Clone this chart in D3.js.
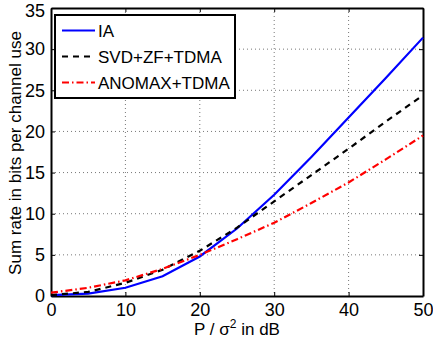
<!DOCTYPE html>
<html>
<head>
<meta charset="utf-8">
<script src="https://cdn.jsdelivr.net/npm/d3@7"></script>
<style>
  body { margin: 0; background: #fff; }
  svg text { font-family: "Liberation Sans", Arial, Helvetica, sans-serif; }
</style>
</head>
<body>
<div id="host"></div>
<script>
// P / sigma^2 in dB
const snrDb = [0, 5, 10, 15, 20, 25, 30, 35, 40, 45, 50];
const rateIA = [0.1, 0.3, 1.0, 2.4, 4.8, 8.2, 12.3, 16.9, 21.7, 26.5, 31.4];
const rateSvd = [0.1, 0.5, 1.6, 3.2, 5.5, 8.3, 11.5, 14.7, 17.9, 21.2, 24.4];
const rateAnomax = [0.4, 1.0, 1.9, 3.3, 5.0, 6.9, 8.9, 11.3, 13.8, 16.6, 19.5];
const xTicks = [0, 10, 20, 30, 40, 50];
const yTicks = [0, 5, 10, 15, 20, 25, 30, 35];

const series = [
  { name: 'IA', values: rateIA, color: '#0000ff', dash: null },
  { name: 'SVD+ZF+TDMA', values: rateSvd, color: '#000000', dash: '6,5' },
  { name: 'ANOMAX+TDMA', values: rateAnomax, color: '#ff0000', dash: '7,3,1.5,3' },
];

const width = 433, height = 343;
const margin = { top: 8, right: 10, bottom: 47, left: 51 };
const innerW = width - margin.left - margin.right;
const innerH = height - margin.top - margin.bottom;

const svg = d3.select('#host').append('svg')
  .attr('width', width).attr('height', height);
const g = svg.append('g').attr('transform', `translate(${margin.left},${margin.top})`);

const x = d3.scaleLinear().domain([0, 50]).range([0, innerW]);
const y = d3.scaleLinear().domain([0, 35]).range([innerH, 0]);

// grid
g.append('g').selectAll('line.gx').data(xTicks.slice(1, -1)).join('line')
  .attr('x1', d => x(d)).attr('x2', d => x(d)).attr('y1', 0).attr('y2', innerH)
  .attr('stroke', '#777').attr('stroke-width', 1).attr('stroke-dasharray', '1,3');
g.append('g').selectAll('line.gy').data(yTicks.slice(1, -1)).join('line')
  .attr('y1', d => y(d)).attr('y2', d => y(d)).attr('x1', 0).attr('x2', innerW)
  .attr('stroke', '#777').attr('stroke-width', 1).attr('stroke-dasharray', '1,3');

// axes (ticks inward, box)
const fmt = d3.format('d');
const axB = g.append('g').attr('transform', `translate(0,${innerH})`)
  .call(d3.axisBottom(x).tickValues(xTicks).tickFormat(fmt).tickSizeInner(-4).tickSizeOuter(0).tickPadding(7));
const axL = g.append('g')
  .call(d3.axisLeft(y).tickValues(yTicks).tickFormat(fmt).tickSizeInner(-4).tickSizeOuter(0).tickPadding(6));
const axT = g.append('g')
  .call(d3.axisTop(x).tickValues(xTicks).tickFormat('').tickSizeInner(-4).tickSizeOuter(0));
const axR = g.append('g').attr('transform', `translate(${innerW},0)`)
  .call(d3.axisRight(y).tickValues(yTicks).tickFormat('').tickSizeInner(-4).tickSizeOuter(0));
[axB, axL, axT, axR].forEach(a => {
  a.select('.domain').attr('stroke', '#000').attr('stroke-width', 2);
  a.selectAll('.tick line').attr('stroke', '#000').attr('stroke-width', 1);
  a.selectAll('text').attr('fill', '#000').style('font-size', '18px');
});
// keep the top label inside the page
axL.selectAll('.tick text').filter(d => d === 35).attr('dy', '0.45em');

// lines
const line = d3.line().x((d, i) => x(snrDb[i])).y(d => y(d));
series.forEach(s => {
  g.append('path').datum(s.values)
    .attr('d', line)
    .attr('fill', 'none')
    .attr('stroke', s.color)
    .attr('stroke-width', 2.2)
    .attr('stroke-dasharray', s.dash);
});

// legend
const lg = svg.append('g').attr('transform', 'translate(55,15)');
lg.append('rect').attr('width', 180).attr('height', 83)
  .attr('fill', '#fff').attr('stroke', '#000').attr('stroke-width', 2);
series.forEach((s, i) => {
  const yy = 15.5 + i * 26;
  lg.append('line').attr('x1', 7).attr('x2', 40).attr('y1', yy).attr('y2', yy)
    .attr('stroke', s.color).attr('stroke-width', 2).attr('stroke-dasharray', s.dash);
  lg.append('text').attr('x', 43).attr('y', yy + 6).text(s.name)
    .style('font-size', '17px');
});

// axis labels
const xl = svg.append('text').attr('x', 237).attr('y', 335).attr('text-anchor', 'middle')
  .style('font-size', '17px');
xl.append('tspan').text('P / σ');
xl.append('tspan').attr('dy', -7).style('font-size', '12px').text('2');
xl.append('tspan').attr('dy', 7).text(' in dB');

svg.append('text').attr('transform', 'translate(21,153) rotate(-90)')
  .attr('text-anchor', 'middle').style('font-size', '17px')
  .text('Sum rate in bits per channel use');
</script>
</body>
</html>
